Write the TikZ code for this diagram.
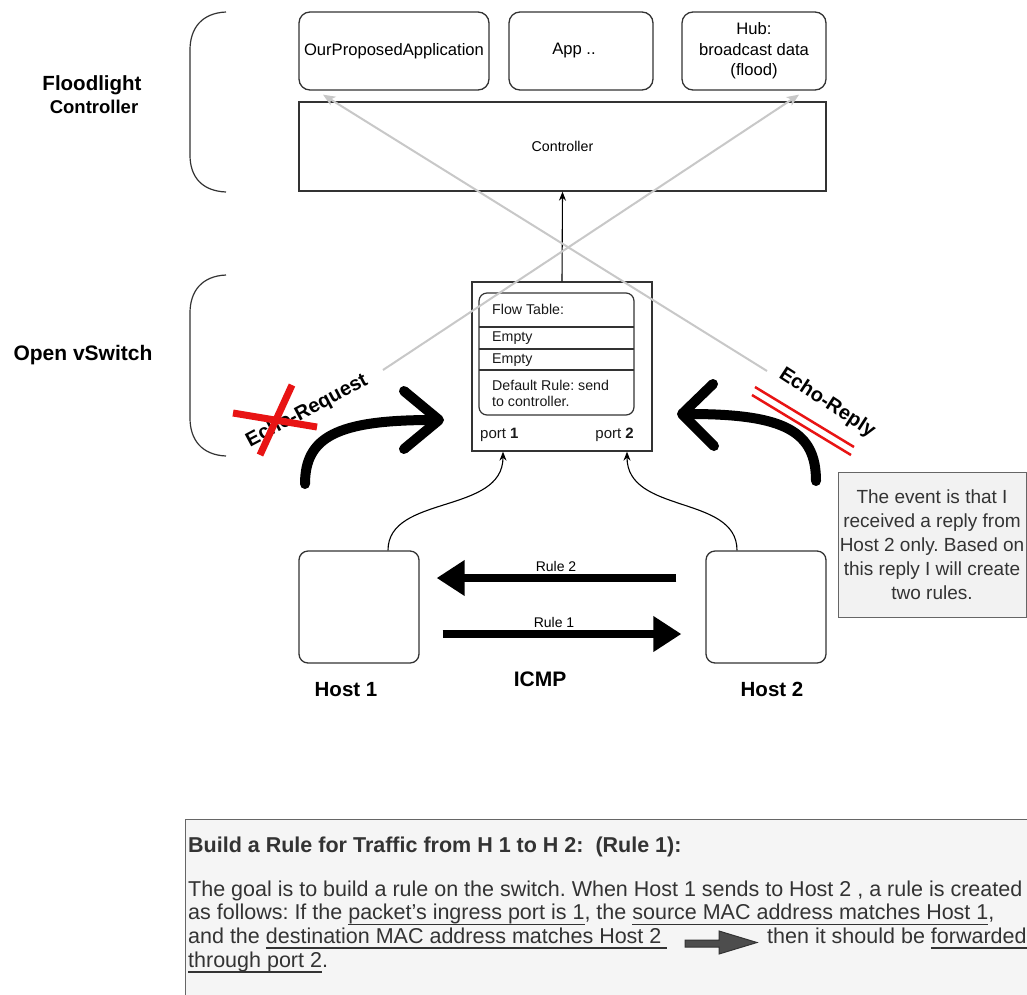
\documentclass[tikz,border=0pt]{standalone}
\usepackage{fontspec}
\setmainfont{Liberation Sans}
\usetikzlibrary{arrows.meta}
\definecolor{edge}{HTML}{333333}
\definecolor{lgray}{HTML}{C8C8C8}
\definecolor{notefill}{HTML}{F2F2F2}
\definecolor{boxfill}{HTML}{F5F5F5}
\definecolor{boxedge}{HTML}{666666}
\definecolor{txt}{HTML}{333333}
\definecolor{xred}{HTML}{E81414}
\definecolor{darkarrow}{HTML}{4D4D4D}
\newsavebox\ulbox
\newcommand\uln[1]{\sbox\ulbox{#1}\rlap{\rule[-5.5pt]{\wd\ulbox}{1.1pt}}\usebox\ulbox}
\newcommand\setfs[2]{\fontsize{#1}{#2}\selectfont}
\frenchspacing
\begin{document}
\frenchspacing
\begin{tikzpicture}[x=1pt,y=-1pt,
  box/.style={draw=edge, line width=1.3pt, fill=white, inner sep=0pt},
  rbox/.style={box, rounded corners=11pt},
  lbl/.style={inner sep=0pt, align=center},
  boldlbl/.style={inner sep=0pt, anchor=base, font=\bfseries\setfs{20.5}{24}},
  celltxt/.style={inner sep=0pt, anchor=base west, font=\setfs{14.2}{17}, text=black!90},
  btxt/.style={inner sep=0pt, anchor=base west, font=\setfs{21.5}{24}, text=txt},
  conn/.style={draw=black, line width=1.1pt, -{Stealth[length=9pt,width=7pt]}},
  grayarrow/.style={draw=lgray, line width=2pt, -{Stealth[length=12pt,width=10pt,inset=3pt]}},
  bigcurve/.style={draw=black, line width=10pt, line cap=round, line join=round},
  rulearrow/.style={draw=black, line width=8pt, -{Triangle[length=28pt,width=34pt]}},
  bracket/.style={draw=edge, line width=1.2pt},
  redline/.style={draw=xred, line width=2.5pt},
  redx/.style={draw=xred, line width=7pt}
]
\useasboundingbox (0,0) rectangle (1027,994);
\clip (0,0) rectangle (1027,994);
\fill[white] (0,0) rectangle (1027,994);

% side brackets and labels
\draw[bracket] (226,12) .. controls (202,13) and (190,28) .. (190,50) -- (190,155) .. controls (190,177) and (202,191) .. (226,192);
\draw[bracket] (226,275) .. controls (202,276) and (190,291) .. (190,313) -- (190,418) .. controls (190,440) and (202,455) .. (226,456);
\node[boldlbl] (flood) at (92,90.7) {Floodlight};
\node[boldlbl, font=\bfseries\setfs{18.5}{22}] (floodc) at (94,113) {Controller};
\node[boldlbl, font=\bfseries\setfs{21}{24}] (ovs) at (83,360.7) {Open vSwitch};

% applications and controller
\node[rbox, minimum width=190pt, minimum height=78pt, font=\setfs{16.6}{20.5}] (app1) at (394,51) {OurProposedApplication};
\node[rbox, minimum width=144pt, minimum height=78pt] (app2) at (581,51) {};
\node[lbl, font=\setfs{16.6}{20.5}] (app2t) at (574,51) {App ..};
\node[rbox, minimum width=144pt, minimum height=78pt, font=\setfs{16.6}{20.5}, align=center] (app3) at (754,51) {Hub:\\broadcast data\\(flood)};
\node[box, minimum width=527pt, minimum height=89pt, font=\setfs{14.2}{17}] (ctrl) at (562.5,146.5) {Controller};

% switch
\node[box, minimum width=180pt, minimum height=169pt] (sw) at (562,366.5) {};
\node[draw=edge, line width=1.2pt, rounded corners=8pt, minimum width=155pt, minimum height=122pt, inner sep=0pt] (ft) at (556.5,354) {};
\draw[edge, line width=1.1pt] (479,327) -- (634,327);
\draw[edge, line width=1.1pt] (479,349) -- (634,349);
\draw[edge, line width=2pt] (479,370) -- (634,370);
\node[celltxt] (c0) at (492,314.3) {Flow Table:};
\node[celltxt] (c1) at (492,341) {Empty};
\node[celltxt] (c2) at (492,363) {Empty};
\node[celltxt] (c3) at (492,390) {Default Rule: send};
\node[celltxt] (c4) at (492,406) {to controller.};
\node[celltxt, font=\setfs{15}{18}] (p1) at (480,438) {port \textbf{1}};
\node[celltxt, anchor=base east, font=\setfs{15}{18}] (p2) at (634,438) {port \textbf{2}};
\draw[conn] (sw.north) -- (ctrl.south);

% hosts
\node[rbox, rounded corners=9pt, minimum width=120pt, minimum height=112pt] (h1) at (359,607) {};
\node[rbox, rounded corners=9pt, minimum width=120pt, minimum height=112pt] (h2) at (766,607) {};
\node[boldlbl] (h1l) at (346,696.7) {Host 1};
\node[boldlbl] (h2l) at (772,696.7) {Host 2};
\node[boldlbl, font=\bfseries\setfs{21}{24}] (icmp) at (540,686) {ICMP};
\draw[conn] ([xshift=29pt]h1.north) .. controls +(0,-56) and +(0,63) .. ([xshift=-59pt]sw.south);
\draw[conn] ([xshift=-29pt]h2.north) .. controls +(0,-56) and +(0,63) .. ([xshift=65pt]sw.south);
\draw[rulearrow] ([shift={(-29,-29)}]h2.west) -- ([shift={(17,-29)}]h1.east);
\draw[rulearrow] ([shift={(23,27)}]h1.east) -- ([shift={(-24,27)}]h2.west);
\node[lbl, anchor=base, font=\setfs{14}{17}] (r2) at (556,571.7) {Rule 2};
\node[lbl, anchor=base, font=\setfs{14}{17}] (r1) at (554,627) {Rule 1};

% gray crossing arrows
\coordinate (rq) at (383,370);
\coordinate (rp) at (767,371);
\draw[grayarrow] (rq) -- ([shift={(45,4)}]app3.south);
\draw[grayarrow] (rp) -- ([shift={(-71,4)}]app1.south);

% big curved arrows
\draw[bigcurve] (305,484) .. controls (305,437) and (337,420) .. (432,420);
\draw[bigcurve] (404,391) -- (439,420) -- (404,449);
\draw[bigcurve] (816,481) .. controls (816,432) and (786,414) .. (690,414);
\draw[bigcurve] (713,384) -- (682,414) -- (714,446);

% echo labels
\node[lbl, rotate=28, font=\bfseries\setfs{20}{24}] (ereq) at (307,411) {Echo-Request};
\draw[redx] (233,413) -- (317,427);
\draw[redx] (292,385) -- (260,455);
\node[lbl, rotate=-33, font=\bfseries\setfs{20}{24}] (erep) at (827,403) {Echo-Reply};
\draw[redline] (755,387) -- (854,447);
\draw[redline] (752,395) -- (851,455);

% note
\node[draw=boxedge, line width=1pt, fill=notefill, minimum width=188pt, minimum height=145pt, inner sep=0pt, align=center, text=txt, font=\setfs{19}{24}] (note) at (932,544.5) {The event is that I\\received a reply from\\Host 2 only. Based on\\this reply I will create\\two rules.};

% bottom explanation box
\node[draw=boxedge, line width=1.2pt, fill=boxfill, anchor=north west, minimum width=870pt, minimum height=200pt, inner sep=0pt] (rb) at (185,819) {};
\node[btxt] (t0) at (188,852) {\textbf{Build a Rule for Traffic from H 1 to H 2:\ \ (Rule 1):}};
\node[btxt] (t1) at (188,896) {The goal is to build a rule on the switch. When Host 1 sends to Host 2 , a rule is created};
\node[btxt] (t2) at (188,919.5) {as follows: If the \uln{packet{\char"27}s ingress port is 1}, the \uln{source MAC address matches Host 1},};
\node[btxt] (t3) at (188,943) {and the \uln{destination MAC address matches Host 2\ }};
\node[btxt] (t3b) at (767,943) {then it should be \uln{forwarded}};
\node[btxt] (t4) at (188,967) {\uln{through port 2}.};
\filldraw[fill=darkarrow, draw=edge, line width=1pt] (685,940) -- (719,940) -- (719,931) -- (757,942.5) -- (719,954) -- (719,947) -- (685,947) -- cycle;
\end{tikzpicture}
\end{document}
